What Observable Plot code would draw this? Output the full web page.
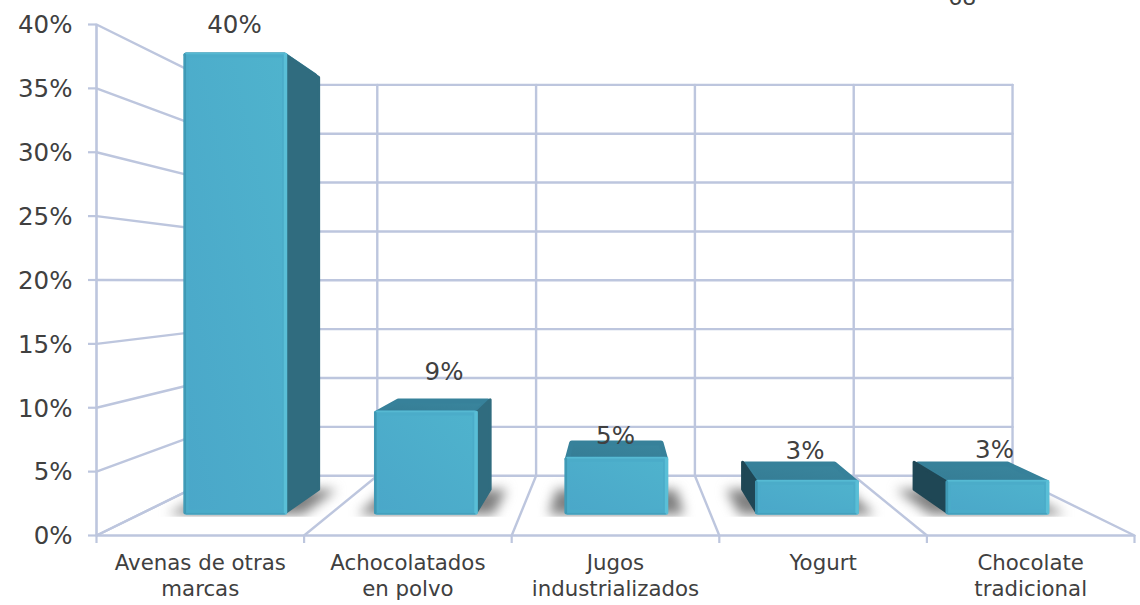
<!DOCTYPE html>
<html>
<head>
<meta charset="utf-8">
<script src="https://cdn.jsdelivr.net/npm/d3@7"></script>
<script src="https://cdn.jsdelivr.net/npm/@observablehq/plot@0.6"></script>
<style>
  html, body { margin: 0; padding: 0; background: #fff; overflow: hidden; }
  svg { display: block; }
</style>
</head>
<body>
<div id="chart"></div>
<script>
// Chart data
const categories = ["Avenas de otras\nmarcas", "Achocolatados\nen polvo", "Jugos\nindustrializados", "Yogurt", "Chocolate\ntradicional"];
const shares = [40, 9, 5, 3, 3];
const shareTicks = [0, 5, 10, 15, 20, 25, 30, 35, 40];
const slotEdges = [0, 1, 2, 3, 4, 5];
const strayText = "68";

// Pixel nudges of the value labels, kept apart from the values
const labelDx = [0, 19, 0, -1, -2];
const labelDy = [-27, -38, -21, -29, -30];

// Perspective box: depth 0 is the front of the floor, depth 1 the back wall
const vanishX = 2.5, vanishY = 19.9, shrink = 0.235;
const scaleAt = t => 1 - shrink * t;
const pt = (u, v, t) => ({
  x: vanishX + (u - vanishX) * scaleAt(t),
  y: vanishY + (v - vanishY) * scaleAt(t)
});

// Column footprint inside the box
const halfWidth = 0.27, depthFront = 0.35, depthBack = 0.74, heightRatio = 0.985;

const gridColor = "#bdc6de";
const textColor = "#404040";

// Wall and floor lines
const gridSegments = [];
const addSegment = (a, b) => { const id = gridSegments.length; gridSegments.push({id, ...a}, {id, ...b}); };
for (const v of shareTicks) {
  addSegment(pt(0, v, 0), pt(0, v, 1));
  addSegment(pt(0, v, 1), pt(5, v, 1));
}
for (const u of slotEdges) {
  addSegment(pt(u, 0, 0), pt(u, 0, 1));
  addSegment(pt(u, 0, 1), pt(u, 40, 1));
}

// A filled polygon through the position scales
const face = (points, fill, strokeWidth = 2, stroke = fill) =>
  Plot.line(points, {
    x: "x", y: "y", fill, stroke, strokeWidth,
    strokeLinejoin: "round", curve: "linear-closed"
  });

// Soft shadows on the floor, cut sharply along the front of each column
const shadowMarks = [];
const maskMarks = [];
shares.forEach((_, i) => {
  const c = i + 0.505, w = halfWidth + 0.085;
  shadowMarks.push(Plot.line(
    [pt(c - w, 0, depthFront), pt(c + w, 0, depthFront), pt(c + w, 0, depthBack + 0.03), pt(c - w, 0, depthBack + 0.03)],
    {x: "x", y: "y", fill: "#808080", stroke: "none", curve: "linear-closed", imageFilter: "blur(6px)"}
  ));
  const m = halfWidth + 0.2;
  maskMarks.push(face(
    [pt(c - m, 0, 0.02), pt(c + m, 0, 0.02), pt(c + m, 0, depthFront - 0.035), pt(c - m, 0, depthFront - 0.035)],
    "#ffffff", 0, "none"
  ));
});

// The columns: faces painted back to front, with rounded corners and thin bevel strips on the front
const columnMarks = [];
shares.forEach((value, i) => {
  const c = i + 0.505, l = c - halfWidth, r = c + halfWidth, h = value * heightRatio;
  const f = depthFront, b = depthBack;
  const iu = 0.012, iv = 0.2, it = 0.035;
  columnMarks.push(face(
    [pt(l + iu, h - iv, f), pt(r - iu, h - iv, f), pt(r - iu, h - iv, b - it), pt(l + iu, h - iv, b - it)],
    "url(#topFace)", 5, "#37819a"
  ));
  // The middle column is seen straight on, so neither of its sides shows
  if (c < vanishX - 0.5) {
    columnMarks.push(face(
      [pt(r - iu / 2, iv, f), pt(r - iu / 2, h - iv, f), pt(r - iu / 2, h - iv, b), pt(r - iu / 2, iv, b)],
      "#306c7f", 3
    ));
  } else if (c > vanishX + 0.5) {
    columnMarks.push(face(
      [pt(l + iu / 2, iv, f), pt(l + iu / 2, h - iv, f), pt(l + iu / 2, h - iv, b), pt(l + iu / 2, iv, b)],
      "#1f4755", 3
    ));
  }
  columnMarks.push(face(
    [pt(l + iu, iv, f), pt(r - iu, iv, f), pt(r - iu, h - iv, f), pt(l + iu, h - iv, f)],
    "url(#frontFace)", 5, "#4bacc9"
  ));
  const bu = 0.012, bv = 0.1;
  columnMarks.push(face([pt(r - bu, bv, f), pt(r - 0.002, bv, f), pt(r - 0.002, h - bv, f), pt(r - bu, h - bv, f)], "#5abfd7", 1.5));
  columnMarks.push(face([pt(l + 0.002, bv, f), pt(l + bu * 0.7, bv, f), pt(l + bu * 0.7, h - bv, f), pt(l + 0.002, h - bv, f)], "#3f98b3", 1));
  columnMarks.push(face([pt(l + iu, h - bv, f), pt(r - iu, h - bv, f), pt(r - iu, h - bv * 0.5, f), pt(l + iu, h - bv * 0.5, f)], "#57bad3", 1));
  columnMarks.push(face([pt(l + iu, bv * 0.5, f), pt(r - iu, bv * 0.5, f), pt(r - iu, bv, f), pt(l + iu, bv, f)], "#449fba", 0.5));
});

// Value labels sit over the columns
const labelMarks = shares.map((value, i) => {
  const anchor = pt(i + 0.5, value * heightRatio, depthFront);
  return Plot.text([anchor], {
    x: "x", y: "y", text: () => `${value}%`,
    dx: labelDx[i], dy: labelDy[i],
    fontSize: 24.5, fill: textColor, textAnchor: "middle", lineAnchor: "middle"
  });
});

// Gradients used by the column faces
const gradients = () => {
  const defs = d3.create("svg:defs");
  const add = (id, x2, y2, stops) => {
    const g = defs.append("linearGradient").attr("id", id)
      .attr("x1", 0).attr("y1", 1).attr("x2", x2).attr("y2", y2);
    stops.forEach(([o, c]) => g.append("stop").attr("offset", o).attr("stop-color", c));
  };
  add("frontFace", 1, 0, [[0, "#4aa7c9"], [1, "#4fb3cd"]]);
  add("topFace", 1, 0, [[0, "#357c94"], [1, "#3a869e"]]);
  return defs.node();
};

const chart = Plot.plot({
  width: 1140,
  height: 605,
  marginLeft: 96,
  marginRight: 6,
  marginTop: 24,
  marginBottom: 70,
  style: {fontFamily: "'DejaVu Sans', sans-serif", background: "#fff", overflow: "visible"},
  x: {type: "linear", domain: [0, 5]},
  y: {type: "linear", domain: [0, 40]},
  marks: [
    gradients,
    ...shadowMarks,
    ...maskMarks,
    Plot.line(gridSegments, {x: "x", y: "y", z: "id", stroke: gridColor, strokeWidth: 2.4}),
    Plot.ruleY([0], {stroke: gridColor, strokeWidth: 2.6}),
    Plot.ruleX([0], {y1: 0, y2: 40, stroke: gridColor, strokeWidth: 2.6}),
    Plot.axisY({
      ticks: shareTicks, tickSize: 8, strokeWidth: 2.2, stroke: gridColor,
      tickFormat: () => "", label: null
    }),
    Plot.axisY({
      ticks: shareTicks, tickSize: 0, tickPadding: 24, dy: 1,
      tickFormat: d => `${d}%`, label: null, fontSize: 24.5, fill: textColor
    }),
    Plot.axisX({
      ticks: slotEdges, tickSize: 8, strokeWidth: 2.2, stroke: gridColor,
      tickFormat: () => "", label: null
    }),
    ...columnMarks,
    ...labelMarks,
    Plot.text(categories, {
      x: (_, i) => i + 0.5, y: () => 0, text: d => d,
      dy: 16, fontSize: 21.3, lineHeight: 1.23, fill: textColor,
      textAnchor: "middle", lineAnchor: "top"
    }),
    Plot.text([strayText], {
      x: () => 4.17, y: () => 40, text: d => d, dy: -20,
      fontSize: 22, fill: textColor, textAnchor: "middle", lineAnchor: "bottom"
    })
  ]
});
document.getElementById("chart").appendChild(chart);
</script>
</body>
</html>
